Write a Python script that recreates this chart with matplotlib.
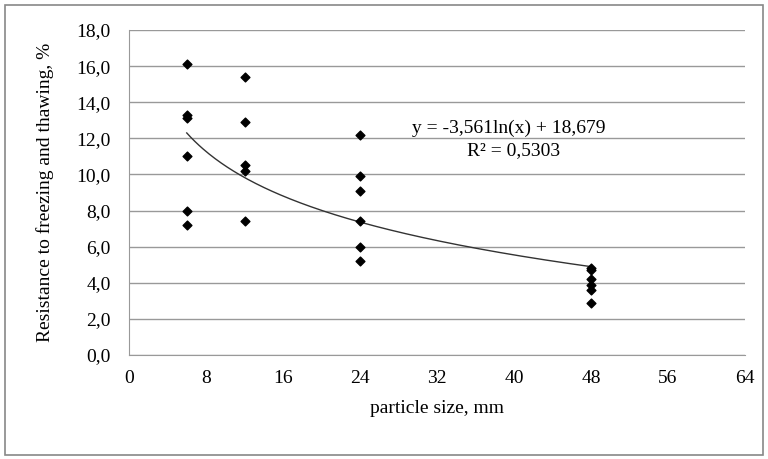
import numpy as np
import matplotlib
matplotlib.use("Agg")
import matplotlib.pyplot as plt
from matplotlib.patches import Rectangle

# measured data
size_mm = [6, 6, 6, 6, 6, 6,
           12, 12, 12, 12, 12,
           24, 24, 24, 24, 24, 24,
           48, 48, 48, 48, 48, 48]
resistance = [16.1, 13.3, 13.1, 11.0, 8.0, 7.2,
              15.4, 12.9, 10.5, 10.2, 7.4,
              12.2, 9.9, 9.1, 7.4, 6.0, 5.2,
              4.8, 4.7, 4.2, 3.9, 3.6, 2.9]

# log trend line coefficients (as shown on the chart)
a_coef = -3.561
b_coef = 18.679
r2 = 0.5303

x_ticks = [0, 8, 16, 24, 32, 40, 48, 56, 64]
y_ticks = [0, 2, 4, 6, 8, 10, 12, 14, 16, 18]

plt.rcParams['font.family'] = ['Liberation Serif', 'DejaVu Serif']

fig = plt.figure(figsize=(7.68, 4.59), dpi=100)
ax = fig.add_axes([129 / 768, 1 - 355 / 459, (745 - 129) / 768, (355 - 30) / 459])

ax.scatter(size_mm, resistance, marker='D', s=20, color='black', zorder=3)

xs = np.linspace(min(size_mm), max(size_mm), 200)
ax.plot(xs, a_coef * np.log(xs) + b_coef, color='#333333', lw=1.0, zorder=2)

ax.set_xlim(0, 64)
ax.set_ylim(0, 18)
ax.set_xticks(x_ticks)
ax.set_yticks(y_ticks)
ax.set_xticklabels([str(v) for v in x_ticks])
ax.set_yticklabels([f"{v:.1f}".replace('.', ',') for v in y_ticks])
ax.tick_params(axis='both', labelsize=14, length=0)
ax.tick_params(axis='x', pad=11)
ax.tick_params(axis='y', pad=13)
ax.yaxis.grid(True, color='#999999', lw=1)
ax.set_axisbelow(True)
for side in ['top', 'right']:
    ax.spines[side].set_visible(False)
for side in ['left', 'bottom']:
    ax.spines[side].set_color('#999999')

ax.set_xlabel('particle size, mm', fontsize=14, labelpad=9)
ax.set_ylabel('Resistance to freezing and thawing, %', fontsize=14, labelpad=16)

ax.text(39.5, 12.55, f"y = {a_coef:.3f}ln(x) + {b_coef:.3f}".replace('.', ','),
        ha='center', va='center', fontsize=14)
ax.text(40, 11.3, f"R² = {r2:.4f}".replace('.', ','), ha='center', va='center', fontsize=14)

fig.patches.append(Rectangle((5 / 768, 4 / 459), 758 / 768, 450 / 459, transform=fig.transFigure,
                             fill=False, edgecolor='#888888', lw=1.2))

fig.savefig('out.png', dpi=100)
